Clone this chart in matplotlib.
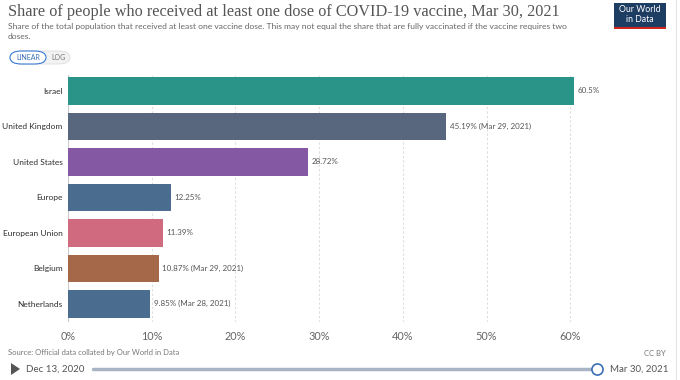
import matplotlib
matplotlib.use("Agg")
import matplotlib.pyplot as plt
from matplotlib.patches import FancyBboxPatch, Rectangle, Polygon
from matplotlib.lines import Line2D

countries = ["Israel", "United Kingdom", "United States", "Europe",
             "European Union", "Belgium", "Netherlands"]
values = [60.5, 45.19, 28.72, 12.25, 11.39, 10.87, 9.85]
notes = ["", " (Mar 29, 2021)", "", "", "", " (Mar 29, 2021)", " (Mar 28, 2021)"]
colors = ["#2a9488", "#58677d", "#8558a3", "#4a6d8f", "#d06a7e", "#a5694a", "#4a6d8f"]
xticks = [0, 10, 20, 30, 40, 50, 60]

W, H = 680, 380
fig = plt.figure(figsize=(6.8, 3.8), dpi=100)
fig.patch.set_facecolor("white")
FONT = "Lato"

def fx(px):
    return px / W

def fy(py):
    return 1 - py / H

ax_left, ax_right, ax_top, ax_bot = 68, 654, 75, 322
ax = fig.add_axes([fx(ax_left), fy(ax_bot), fx(ax_right - ax_left), (ax_bot - ax_top) / H])
ypos = list(range(len(countries)))
ax.barh(ypos, values, height=0.77, color=colors, zorder=3)
ax.set_xlim(0, 70)
ax.set_ylim(6.51, -0.45)
for y, v, n in zip(ypos, values, notes):
    lbl = f"{v:g}%" + n
    ax.text(v + 0.4, y, lbl, va="center", ha="left", fontsize=5.8, color="#555555", family=FONT)
for t in xticks:
    ax.axvline(t, color="#dddddd", lw=0.8, ls=(0, (2, 2)), zorder=1)
ax.axvline(0, color="#cccccc", lw=0.8, zorder=2)
ax.set_yticks(ypos)
ax.set_yticklabels(countries, fontsize=6.0, color="#2e2e2e", family=FONT)
ax.set_xticks([])
for s in ax.spines.values():
    s.set_visible(False)
ax.tick_params(axis="y", length=0, pad=4)
ax.set_facecolor("none")
for t in xticks:
    x = ax_left + t * (ax_right - ax_left) / 70
    fig.text(fx(x), fy(336), f"{t}%", ha="center", va="center", fontsize=7.8, color="#666666", family=FONT)

# Title / subtitle
fig.text(fx(8), fy(12), "Share of people who received at least one dose of COVID-19 vaccine, Mar 30, 2021",
         fontsize=11.7, color="#555555", family="Liberation Serif", va="center", ha="left")
fig.text(fx(8), fy(26), "Share of the total population that received at least one vaccine dose. This may not equal the share that are fully vaccinated if the vaccine requires two",
         fontsize=6.1, color="#666666", family=FONT, va="center", ha="left")
fig.text(fx(8), fy(36.5), "doses.", fontsize=6.1, color="#666666", family=FONT, va="center", ha="left")

# Buttons
btn = FancyBboxPatch((fx(10), fy(64)), fx(60), 13 / H, boxstyle="round,pad=0,rounding_size=0.017",
                     transform=fig.transFigure, facecolor="#f2f2f2", edgecolor="#dddddd", lw=0.6)
fig.add_artist(btn)
btn2 = FancyBboxPatch((fx(10), fy(64)), fx(36), 13 / H, boxstyle="round,pad=0,rounding_size=0.017",
                      transform=fig.transFigure, facecolor="white", edgecolor="#3a7bd5", lw=0.8)
fig.add_artist(btn2)
fig.text(fx(28), fy(57.5), "LINEAR", fontsize=5.0, color="#3a6fb5", family=FONT, ha="center", va="center")
fig.text(fx(58), fy(57.5), "LOG", fontsize=5.0, color="#777777", family=FONT, ha="center", va="center")

# Logo
fig.add_artist(Rectangle((fx(614), fy(29)), fx(52), 26 / H, transform=fig.transFigure,
                         facecolor="#1d3d63", edgecolor="none"))
fig.add_artist(Rectangle((fx(614), fy(29)), fx(52), 2.5 / H, transform=fig.transFigure,
                         facecolor="#ce261e", edgecolor="none"))
fig.text(fx(640), fy(10), "Our World", fontsize=6.3, color="white", family=FONT, ha="center", va="center")
fig.text(fx(640), fy(19.5), "in Data", fontsize=6.3, color="white", family=FONT, ha="center", va="center")

# Right border
fig.add_artist(Line2D([fx(676), fx(676)], [0, 1], transform=fig.transFigure, color="#e5e5e5", lw=0.8))

# Source
fig.text(fx(8), fy(353), "Source: Official data collated by Our World in Data", fontsize=5.5,
         color="#777777", family=FONT, ha="left", va="center")
fig.text(fx(666), fy(353), "CC BY", fontsize=5.5, color="#777777", family=FONT, ha="right", va="center")

# Timeline
fig.add_artist(Polygon([[fx(11), fy(363)], [fx(11), fy(375)], [fx(20), fy(369)]], closed=True,
                       transform=fig.transFigure, facecolor="#555555", edgecolor="none"))
fig.text(fx(26), fy(369.5), "Dec 13, 2020", fontsize=7, color="#555555", family=FONT, ha="left", va="center")
fig.add_artist(Line2D([fx(93), fx(592)], [fy(369), fy(369)], transform=fig.transFigure,
                      color="#a8b4c4", lw=2.5, solid_capstyle="round"))
fig.add_artist(Line2D([fx(597)], [fy(369)], transform=fig.transFigure, marker="o", markersize=8,
                      markerfacecolor="white", markeredgecolor="#3a6fb5", markeredgewidth=1.2))
fig.text(fx(610), fy(369.5), "Mar 30, 2021", fontsize=7, color="#555555", family=FONT, ha="left", va="center")

fig.savefig("out.png", dpi=100, facecolor="white")
